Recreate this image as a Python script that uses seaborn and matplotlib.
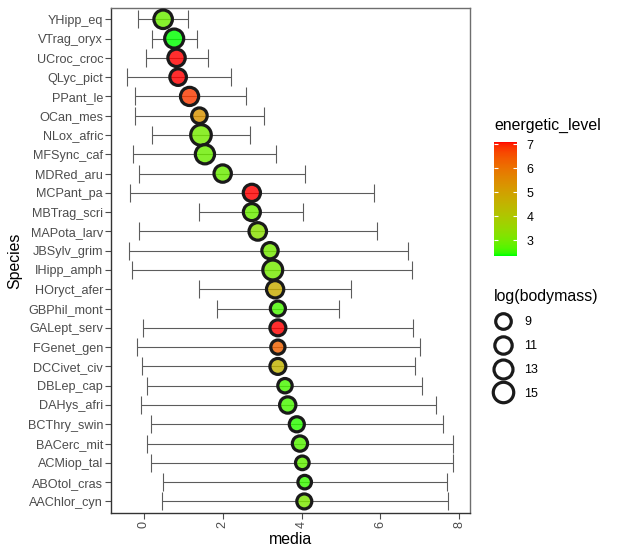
import matplotlib
matplotlib.use('Agg')
import matplotlib.pyplot as plt
import numpy as np
import pandas as pd
import seaborn as sns
from matplotlib import cm
from matplotlib.colors import LinearSegmentedColormap, Normalize
from matplotlib.lines import Line2D

# species listed top to bottom as in the chart
species = [
    'YHipp_eq', 'VTrag_oryx', 'UCroc_croc', 'QLyc_pict', 'PPant_le', 'OCan_mes',
    'NLox_afric', 'MFSync_caf', 'MDRed_aru', 'MCPant_pa', 'MBTrag_scri', 'MAPota_larv',
    'JBSylv_grim', 'IHipp_amph', 'HOryct_afer', 'GBPhil_mont', 'GALept_serv', 'FGenet_gen',
    'DCCivet_civ', 'DBLep_cap', 'DAHys_afri', 'BCThry_swin', 'BACerc_mit', 'ACMiop_tal',
    'ABOtol_cras', 'AAChlor_cyn',
]
media = [0.49, 0.77, 0.83, 0.87, 1.16, 1.41, 1.45, 1.55, 2.00, 2.74, 2.74, 2.89,
         3.20, 3.27, 3.33, 3.40, 3.40, 3.40, 3.40, 3.58, 3.65, 3.88, 3.96, 4.02,
         4.08, 4.07]
lower = [-0.15, 0.22, 0.05, -0.43, -0.23, -0.23, 0.20, -0.28, -0.11, -0.36, 1.41, -0.13,
         -0.38, -0.30, 1.41, 1.85, -0.02, -0.17, -0.04, 0.08, -0.07, 0.19, 0.09, 0.19,
         0.48, 0.45]
upper = [1.11, 1.36, 1.63, 2.22, 2.59, 3.06, 2.70, 3.36, 4.09, 5.83, 4.04, 5.91,
         6.70, 6.81, 5.25, 4.96, 6.83, 7.00, 6.87, 7.06, 7.42, 7.58, 7.83, 7.85,
         7.68, 7.72]
energetic_level = [2.9, 2.35, 7.1, 7.1, 6.8, 5.3, 3.0, 2.9, 2.9, 7.1, 2.9, 3.3,
                   3.0, 3.0, 4.7, 2.6, 7.1, 6.3, 4.5, 2.6, 2.6, 2.45, 2.7, 2.8,
                   2.5, 3.1]
log_bodymass = [12.4, 13.1, 11.0, 10.1, 12.0, 9.0, 15.2, 13.3, 11.0, 10.8, 10.6, 11.2,
                9.8, 14.2, 10.9, 8.5, 9.4, 7.6, 9.4, 7.8, 9.8, 8.5, 8.7, 7.1,
                7.0, 8.4]
size_breaks = [9, 11, 13, 15]
color_ticks = [3, 4, 5, 6, 7]


def srgb_to_lab(rgb):
    rgb = np.asarray(rgb, dtype=float)
    lin = np.where(rgb <= 0.04045, rgb / 12.92, ((rgb + 0.055) / 1.055) ** 2.4)
    m = np.array([[0.4124, 0.3576, 0.1805], [0.2126, 0.7152, 0.0722], [0.0193, 0.1192, 0.9505]])
    xyz = m @ lin / np.array([0.95047, 1.0, 1.08883])
    f = np.where(xyz > 0.008856, np.cbrt(xyz), 7.787 * xyz + 16 / 116)
    return np.array([116 * f[1] - 16, 500 * (f[0] - f[1]), 200 * (f[1] - f[2])])


def lab_to_srgb(lab):
    L, a, b = lab
    fy = (L + 16) / 116
    f = np.array([fy + a / 500, fy, fy - b / 200])
    xyz = np.where(f ** 3 > 0.008856, f ** 3, (f - 16 / 116) / 7.787) * np.array([0.95047, 1.0, 1.08883])
    m_inv = np.array([[3.2406, -1.5372, -0.4986], [-0.9689, 1.8758, 0.0415], [0.0557, -0.2040, 1.0570]])
    lin = np.clip(m_inv @ xyz, 0, 1)
    rgb = np.where(lin <= 0.0031308, 12.92 * lin, 1.055 * lin ** (1 / 2.4) - 0.055)
    return np.clip(rgb, 0, 1)


# ggplot-like green -> red gradient interpolated in Lab
lab_lo, lab_hi = srgb_to_lab([0, 1, 0]), srgb_to_lab([1, 0, 0])
stops = [lab_to_srgb(lab_lo + t * (lab_hi - lab_lo)) for t in np.linspace(0, 1, 64)]
grad = LinearSegmentedColormap.from_list('green_red', stops)
hue_norm = Normalize(vmin=min(energetic_level), vmax=max(energetic_level))

df = pd.DataFrame({
    'Species': species, 'media': media, 'lower': lower, 'upper': upper,
    'energetic_level': energetic_level, 'log_bodymass': log_bodymass,
})
df['pos'] = np.arange(len(df))

plt.rcParams['font.family'] = ['Liberation Sans', 'DejaVu Sans']
fig = plt.figure(figsize=(6.18, 5.55), dpi=100)
ax = fig.add_axes([110.7 / 618, 1 - 513 / 555, (469.5 - 110.7) / 618, (513 - 7.7) / 555])

ax.errorbar(
    df['media'], df['pos'], xerr=[df['media'] - df['lower'], df['upper'] - df['media']],
    fmt='none', ecolor='#5c5c5c', elinewidth=0.8, capsize=6.3, capthick=0.8, zorder=2,
)
size_range = (95, 220)
size_norm = (7.0, 15.2)
sns.scatterplot(
    data=df, x='media', y='pos', hue='energetic_level', size='log_bodymass',
    palette=grad, hue_norm=hue_norm, sizes=size_range, size_norm=size_norm,
    edgecolor='#1a1a1a', linewidth=2.3, legend=False, ax=ax, zorder=3,
)
points = ax.collections[-1]
fc = points.get_facecolors()
fc[:, 3] = 0.82
points.set_facecolors(fc)
points.set_edgecolors('#1a1a1a')

ax.set_xlim(-0.84, 8.26)
ax.set_ylim(len(df) - 0.4, -0.6)
ax.set_yticks(df['pos'], df['Species'])
ax.set_xticks([0, 2, 4, 6, 8])
ax.tick_params(axis='both', labelsize=9.1, labelcolor='#4d4d4d', color='#4d4d4d', length=4, width=0.8, pad=1.5)
ax.tick_params(axis='x', labelrotation=90)
ax.set_xlabel('media', fontsize=11.4, labelpad=3)
ax.set_ylabel('Species', fontsize=11.4, labelpad=4)
for side in ['left', 'bottom']:
    ax.spines[side].set_color('#333333')
for side in ['top', 'right']:
    ax.spines[side].set_color('#6e6e6e')
for spine in ax.spines.values():
    spine.set_linewidth(1.0)

# colour bar for energetic_level
cax = fig.add_axes([494 / 618, 1 - 255.7 / 555, 23 / 618, 114 / 555])
sm = cm.ScalarMappable(norm=hue_norm, cmap=grad)
cb = fig.colorbar(sm, cax=cax, ticks=color_ticks)
cb.outline.set_visible(False)
cax.yaxis.set_ticks_position('both')
cax.tick_params(color='white', direction='in', length=3, width=0.8, labelsize=9, pad=7, labelcolor='black')
fig.text(494 / 618, 1 - 125 / 555, 'energetic_level', fontsize=11.4, ha='left', va='center')

# size legend for log(bodymass)
handles = []
for value in size_breaks:
    area = size_range[0] + (value - size_norm[0]) / (size_norm[1] - size_norm[0]) * (size_range[1] - size_range[0])
    handles.append(Line2D([], [], marker='o', linestyle='', markersize=np.sqrt(area),
                          markerfacecolor='none', markeredgecolor='#1a1a1a', markeredgewidth=2.3))
fig.text(494 / 618, 1 - 297 / 555, 'log(bodymass)', fontsize=11.4, ha='left', va='center')
fig.legend(handles, [str(v) for v in size_breaks], loc='center left',
           bbox_to_anchor=(497 / 618, 1 - 358 / 555), frameon=False, fontsize=9,
           labelspacing=0.95, handlelength=1.0, handletextpad=1.2, borderpad=0, borderaxespad=0)

fig.savefig('out.png', dpi=100, facecolor='white')
